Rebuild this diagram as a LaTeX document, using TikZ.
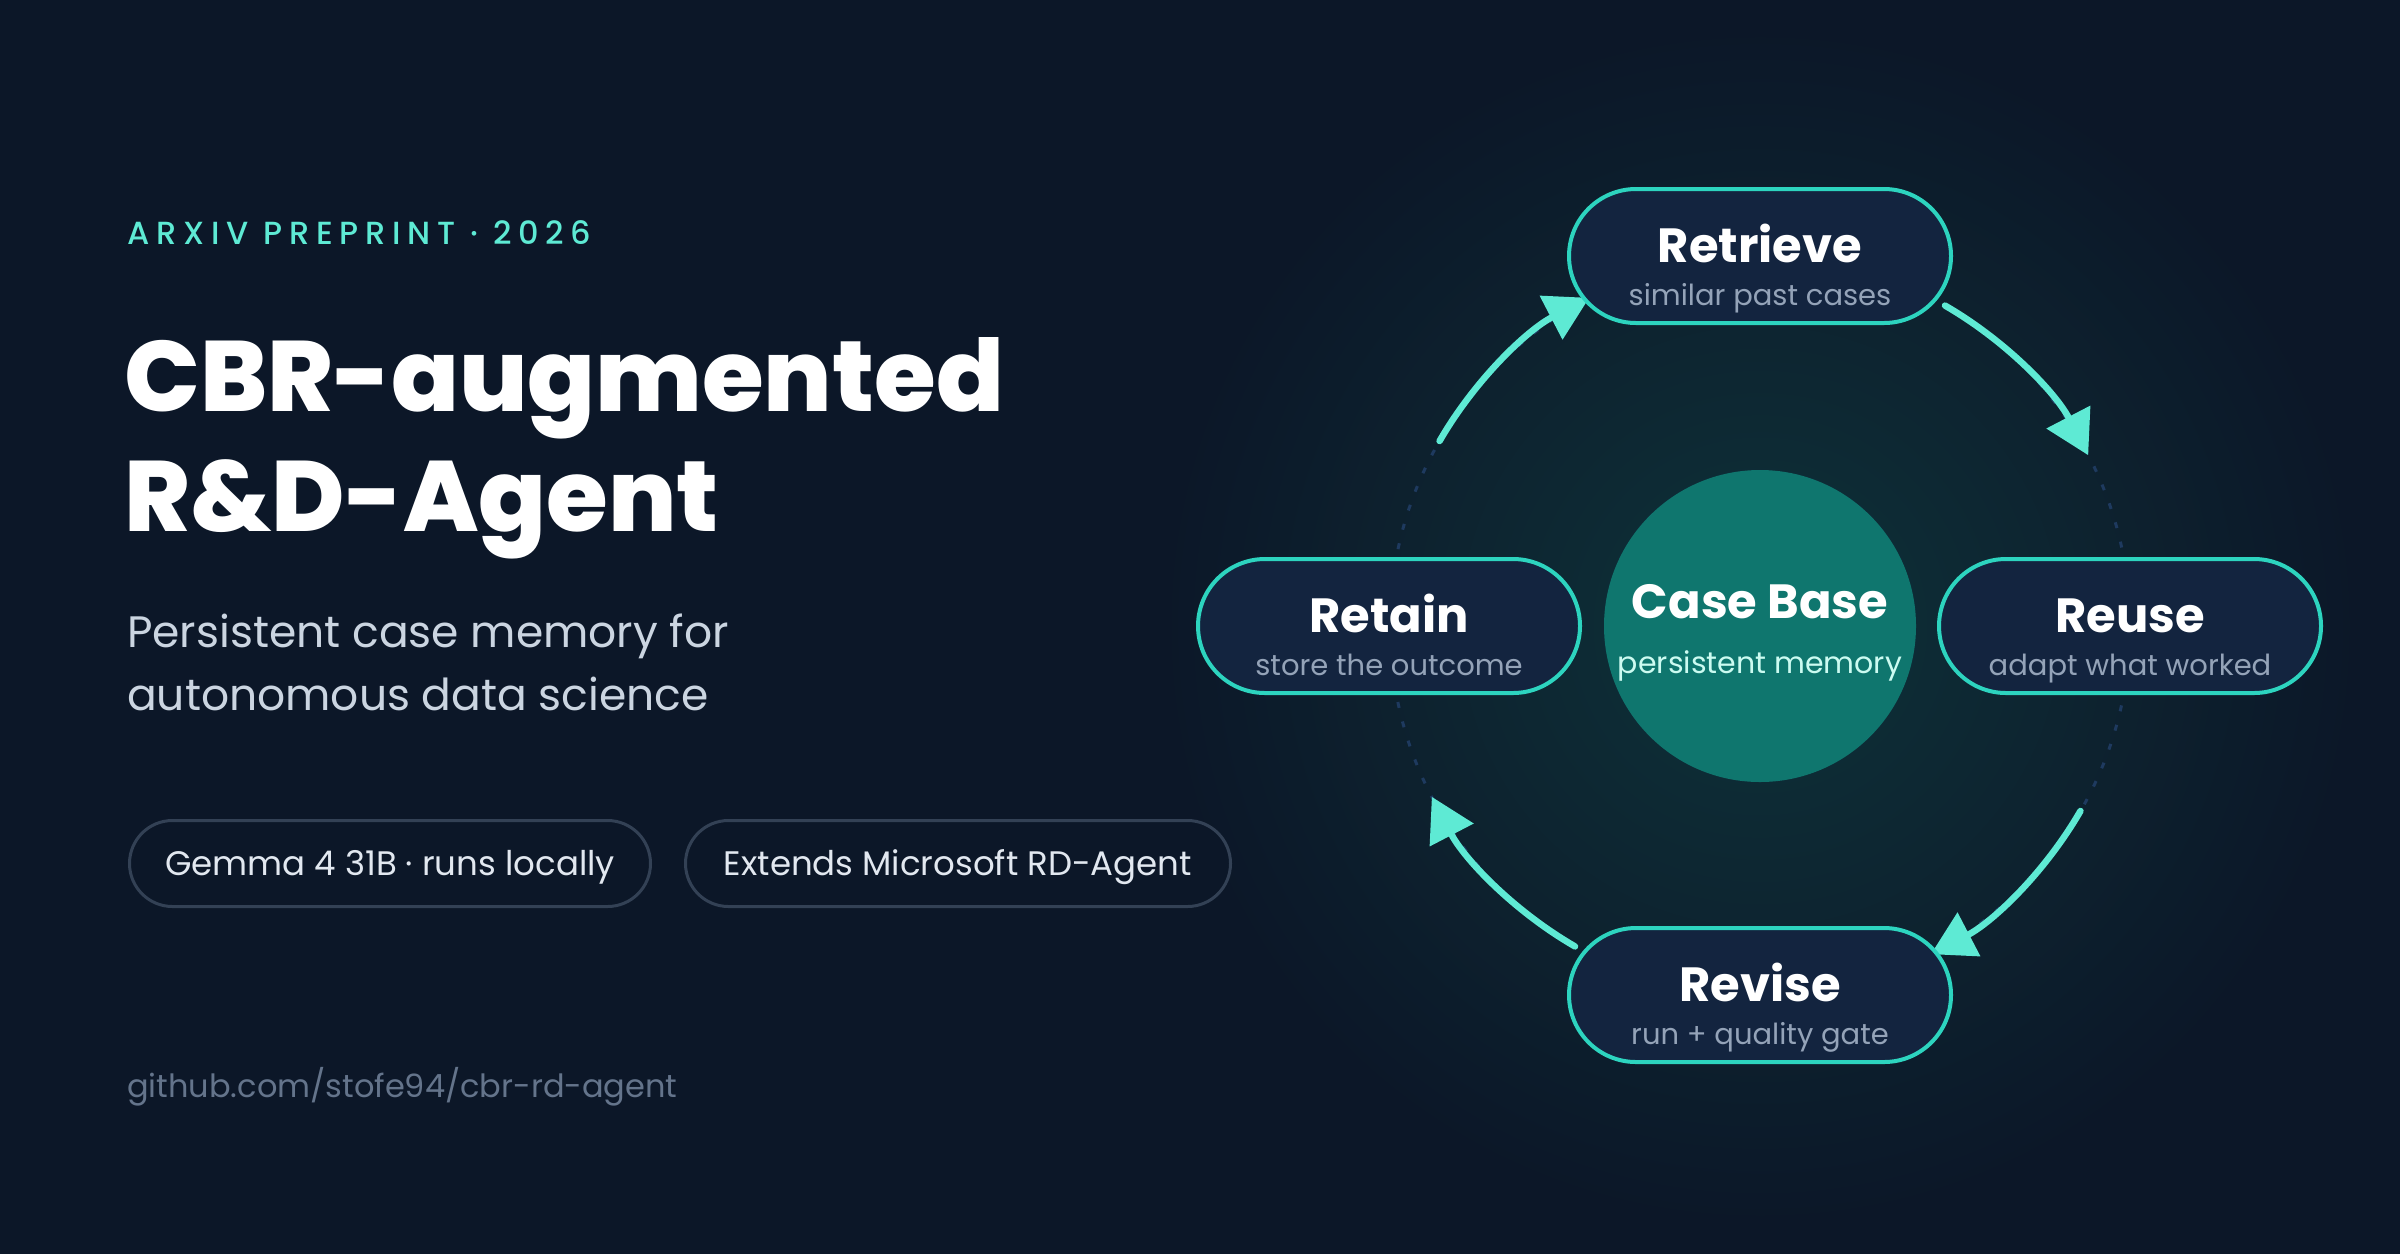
\documentclass[tikz,border=0pt]{standalone}
\usepackage{fontspec}
\setmainfont{Poppins}
\newfontfamily\pxb{Poppins ExtraBold}
\newfontfamily\pmed{Poppins Medium}[LetterSpace=21]
\usetikzlibrary{arrows.meta,calc}
\definecolor{bg}{HTML}{0C1728}
\definecolor{glow}{HTML}{0E3239}
\definecolor{accent}{HTML}{5EEAD4}
\definecolor{pillline}{HTML}{2DD4BF}
\definecolor{pillfill}{HTML}{13243F}
\definecolor{subgray}{HTML}{94A3B8}
\definecolor{leadgray}{HTML}{CBD5E1}
\definecolor{taggray}{HTML}{334155}
\definecolor{tagtext}{HTML}{E2E8F0}
\definecolor{urlgray}{HTML}{64748B}
\definecolor{ringdash}{HTML}{1E3A5F}
\definecolor{coretea}{HTML}{0F766E}
\definecolor{coresub}{HTML}{CCFBF1}
\begin{document}
\begin{tikzpicture}[x=1pt,y=-1pt,
  pill/.style={draw=pillline, line width=4, fill=pillfill, rounded corners=67,
    minimum width=382, minimum height=134, inner sep=0},
  ptitle/.style={anchor=base, inner sep=0, text=white,
    font=\bfseries\fontsize{48}{52}\selectfont},
  psub/.style={anchor=base, inner sep=0, text=subgray,
    font=\fontsize{29}{32}\selectfont},
  tag/.style={draw=taggray, line width=3, fill=bg, rounded corners=43,
    minimum height=86, inner sep=0, text=tagtext, text height=24, text depth=0,
    font=\fontsize{34}{38}\selectfont},
  flow/.style={draw=accent, line width=6.5, line cap=round,
    -{Triangle[length=43pt,width=48pt]}},
  ring/.style={draw=ringdash, line width=3, dash pattern=on 6pt off 14pt},
  lefttext/.style={anchor=base west, inner sep=0}
]
\fill[bg] (0,0) rectangle (2400,1254);
\useasboundingbox (0,0) rectangle (2400,1254);

% ---------- glow behind the cycle ----------
\coordinate (c) at (1760,626);
\shade[inner color=glow, outer color=bg] (c) circle (600);

% ---------- left column ----------
\node[lefttext, text=accent, font=\pmed\fontsize{32}{36}\selectfont] (kicker) at (127,244.3) {ARXIV PREPRINT · 2026};
\node[lefttext, text=white, font=\pxb\fontsize{100}{120}\selectfont] (title1) at (124,411.7) {CBR-augmented};
\node[lefttext, text=white, font=\pxb\fontsize{100}{120}\selectfont] (title2) at (124,531.7) {R\&D-Agent};
\node[lefttext, text=leadgray, font=\fontsize{44}{50}\selectfont] (lead1) at (127,647.3) {Persistent case memory for};
\node[lefttext, text=leadgray, font=\fontsize{44}{50}\selectfont] (lead2) at (127,710.7) {autonomous data science};
\node[tag, minimum width=521] (gemma) at (390,863.5) {Gemma 4 31B · runs locally};
\node[tag, minimum width=545] (msft) at (958,863.5) {Extends Microsoft RD-Agent};
\node[lefttext, text=urlgray, font=\fontsize{32}{36}\selectfont] (url) at (127,1097) {github.com/stofe94/cbr-rd-agent};

% ---------- cycle ----------
\draw[ring] (c) circle (370);

\node[circle, fill=coretea, minimum size=312, inner sep=0] (core) at (c) {};
\node[anchor=base, inner sep=0, text=white, font=\bfseries\fontsize{48}{52}\selectfont] (coret) at ($(core)+(0,-8)$) {Case Base};
\node[anchor=base, inner sep=0, text=coresub, font=\fontsize{30}{34}\selectfont] (cores) at ($(core)+(0,47)$) {persistent memory};

\coordinate (a1) at ($(c)+(-60:370)$);
\coordinate (a2) at ($(c)+(30:370)$);
\coordinate (a3) at ($(c)+(120:370)$);
\coordinate (a4) at ($(c)+(-150:370)$);
\draw[flow] (a1) arc[start angle=-60, end angle=-27.5, radius=370];
\draw[flow] (a2) arc[start angle=30, end angle=62.5, radius=370];
\draw[flow] (a3) arc[start angle=120, end angle=152.5, radius=370];
\draw[flow] (a4) arc[start angle=-150, end angle=-117.5, radius=370];

\node[pill] (retrieve) at (1760,256) {};
\node[ptitle] at ($(retrieve)+(0,6.7)$) {Retrieve};
\node[psub] at ($(retrieve)+(0,49)$) {similar past cases};

\node[pill] (reuse) at (2130,626) {};
\node[ptitle] at ($(reuse)+(0,6.7)$) {Reuse};
\node[psub] at ($(reuse)+(0,49)$) {adapt what worked};

\node[pill] (revise) at (1760,995) {};
\node[ptitle] at ($(revise)+(0,6.7)$) {Revise};
\node[psub] at ($(revise)+(0,49)$) {run + quality gate};

\node[pill] (retain) at (1389,626) {};
\node[ptitle] at ($(retain)+(0,6.7)$) {Retain};
\node[psub] at ($(retain)+(0,49)$) {store the outcome};
\end{tikzpicture}
\end{document}
